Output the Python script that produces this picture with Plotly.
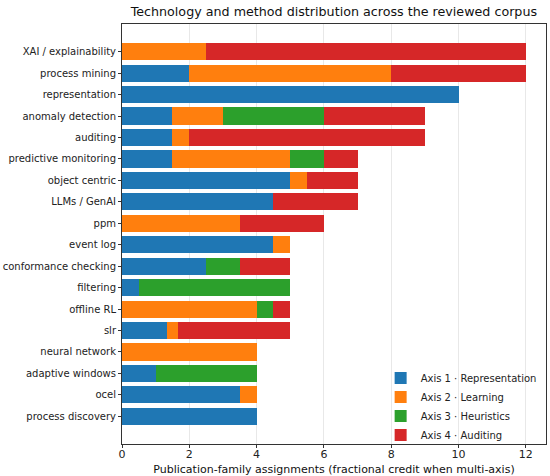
import plotly.graph_objects as go

categories = [
    "XAI / explainability", "process mining", "representation", "anomaly detection",
    "auditing", "predictive monitoring", "object centric", "LLMs / GenAI", "ppm",
    "event log", "conformance checking", "filtering", "offline RL", "slr",
    "neural network", "adaptive windows", "ocel", "process discovery",
]
axis1 = [0, 2, 10, 1.5, 1.5, 1.5, 5, 4.5, 0, 4.5, 2.5, 0.5, 0, 1.333, 0, 1, 3.5, 4]
axis2 = [2.5, 6, 0, 1.5, 0.5, 3.5, 0.5, 0, 3.5, 0.5, 0, 0, 4, 0.333, 4, 0, 0.5, 0]
axis3 = [0, 0, 0, 3, 0, 1, 0, 0, 0, 0, 1, 4.5, 0.5, 0, 0, 3, 0, 0]
axis4 = [9.5, 4, 0, 3, 7, 1, 1.5, 2.5, 2.5, 0, 1.5, 0, 0.5, 3.333, 0, 0, 0, 0]
series_names = ["Axis 1 · Representation", "Axis 2 · Learning", "Axis 3 · Heuristics", "Axis 4 · Auditing"]
series_values = [axis1, axis2, axis3, axis4]
colors = ["#1f77b4", "#ff7f0e", "#2ca02c", "#d62728"]
x_ticks = [0, 2, 4, 6, 8, 10, 12]

font = "DejaVu Sans"
fig = go.Figure()
for name, vals, col in zip(series_names, series_values, colors):
    fig.add_trace(go.Bar(
        y=categories, x=vals, name=name, orientation="h",
        marker=dict(color=col, line=dict(width=0)),
    ))

n = len(categories)
fig.update_layout(
    width=550, height=476,
    barmode="stack", bargap=0.2,
    margin=dict(l=122, r=4, t=24, b=32),
    paper_bgcolor="white", plot_bgcolor="white",
    font=dict(family=font, size=10, color="#222"),
    title=dict(text="Technology and method distribution across the reviewed corpus",
               x=0.607, xanchor="center", y=0.985, yanchor="top",
               font=dict(family=font, size=12.7, color="#111")),
    showlegend=True,
    legend=dict(x=0.61, xanchor="left", y=0.089, yanchor="middle",
                bgcolor="rgba(255,255,255,0)", font=dict(family=font, size=10, color="#222"),
                traceorder="normal", itemsizing="constant", tracegroupgap=0),
    xaxis=dict(range=[0, 12.6], tickvals=x_ticks, showgrid=True,
               gridcolor="rgba(0,0,0,0.09)", gridwidth=1, layer="above traces",
               zeroline=False, showline=True, linecolor="#333", linewidth=1, mirror=True,
               ticks="outside", ticklen=3, tickcolor="#333", automargin=False,
               ticklabelstandoff=-3,
               tickfont=dict(family=font, size=11, color="#222"),
               title=dict(text="Publication-family assignments (fractional credit when multi-axis)",
                          font=dict(family=font, size=11, color="#111"), standoff=6)),
    yaxis=dict(categoryorder="array", categoryarray=categories[::-1],
               range=[-1.29, n - 1 + 1.29], showgrid=False, zeroline=False,
               showline=True, linecolor="#333", linewidth=1, mirror=True,
               ticks="outside", ticklen=3, tickcolor="#333", automargin=False,
               tickfont=dict(family=font, size=10, color="#222")),
)
fig.write_html("out.html", config={"displayModeBar": False},
               post_script="document.body.style.margin='0';")
